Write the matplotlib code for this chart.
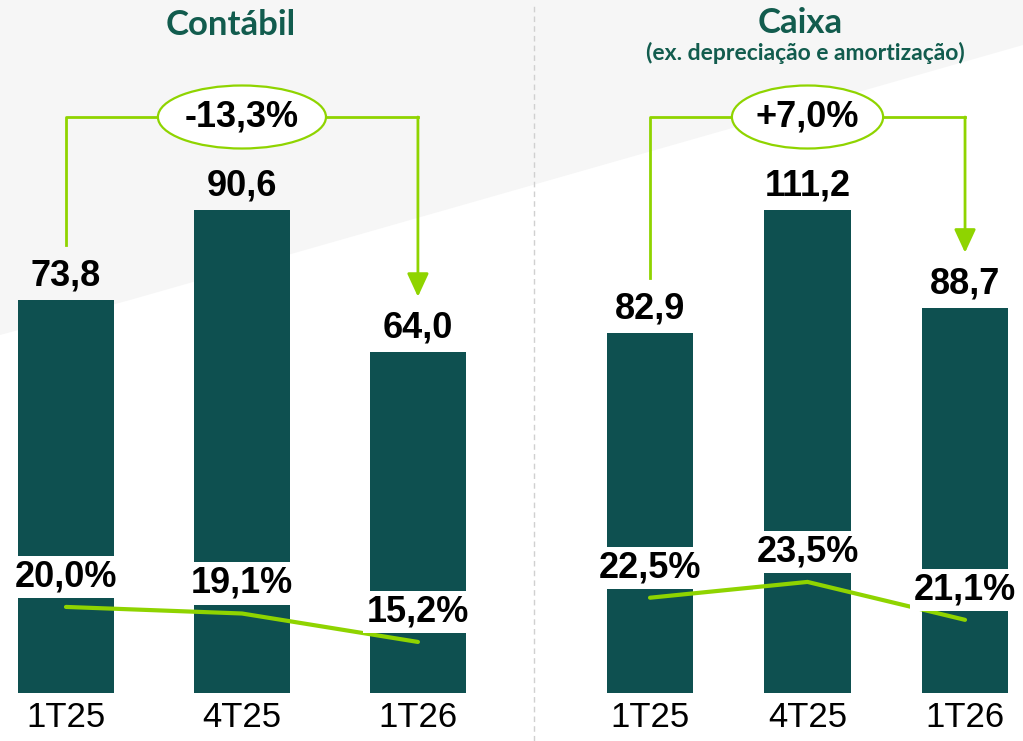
import numpy as np
import matplotlib.pyplot as plt
import matplotlib.transforms as mtransforms
from matplotlib.patches import Ellipse, Polygon
from matplotlib.lines import Line2D

categories = ['1T25', '4T25', '1T26']
contabil_values = [73.8, 90.6, 64.0]
contabil_margin = [20.0, 19.1, 15.2]
contabil_change = '-13,3%'
caixa_values = [82.9, 111.2, 88.7]
caixa_margin = [22.5, 23.5, 21.1]
caixa_change = '+7,0%'

BAR = '#0e5050'
GREEN = '#8fd400'
TITLE = '#125c4e'

W, H = 1023, 741
plt.rcParams['font.family'] = ['Liberation Sans', 'DejaVu Sans']

fig = plt.figure(figsize=(W / 100, H / 100), dpi=100)

def br(v):
  return f'{v:.1f}'.replace('.', ',')

def draw_panel(x0, x1, xlim, pct_lim, values, margins, change, ell_w):
  # axes area in pixels: top 100, bottom 693
  ax = fig.add_axes([x0 / W, 1 - 693 / H, (x1 - x0) / W, 593 / H])
  ax.patch.set_visible(False)
  x = np.arange(len(categories))
  ax.bar(x, values, width=0.55, color=BAR, zorder=2)
  ax.set_xlim(xlim)
  ymax = max(values) * 593 / 483.0
  ax.set_ylim(0, ymax)
  ax.set_yticks([])
  ax.set_xticks(x, categories, fontsize=25)
  ax.tick_params(axis='x', length=0, pad=5.8)
  for s in ax.spines.values():
    s.set_visible(False)
  per_px = ymax / 593.0

  for i, v in enumerate(values):
    ax.annotate(br(v), (i, v), xytext=(0, 24), textcoords='offset pixels',
                ha='center', va='center', fontsize=26, fontweight='bold')

  # bracket with change
  y_br = ax.transData.inverted().transform((0, H - 117))[1]
  ax.plot([0, 0, 2], [values[0] + 55 * per_px, y_br, y_br], color=GREEN, lw=2, zorder=3)
  ax.annotate('', xy=(2, values[2] + 55 * per_px), xytext=(2, y_br),
              arrowprops=dict(arrowstyle='-|>,head_width=0.3,head_length=0.65',
                              color=GREEN, lw=2, shrinkA=0, shrinkB=0, mutation_scale=22),
              zorder=3)
  tr = mtransforms.blended_transform_factory(ax.transData, fig.transFigure)
  ax.add_patch(Ellipse((1, 1 - 117 / H), ell_w, 63 / H, transform=tr,
                       fc='white', ec=GREEN, lw=1.6, zorder=4, clip_on=False))
  ax.text(1, y_br, change, ha='center', va='center', fontsize=26,
          fontweight='bold', zorder=5)

  ax2 = ax.twinx()
  ax2.plot(x, margins, color=GREEN, lw=3, solid_capstyle='round', zorder=2)
  ax2.set_ylim(pct_lim)
  ax2.axis('off')
  for i, m in enumerate(margins):
    ax2.annotate(br(m) + '%', (i, m), xytext=(0, 30), textcoords='offset pixels',
                 ha='center', va='center', fontsize=26, fontweight='bold', zorder=4,
                 bbox=dict(boxstyle='square,pad=0.1', fc='white', ec='none'))
  return ax

# faint background shape
fig.add_artist(Polygon([(0, 1), (1, 1), (1, 1 - 45 / H), (130 / W, 1 - 300 / H), (0, 1 - 335 / H)],
                       closed=True, transform=fig.transFigure, fc='#f6f6f6', ec='none', zorder=0))
fig.add_artist(Line2D([534 / W, 534 / W], [0, 1 - 5 / H], transform=fig.transFigure,
                      color='#d0d0d0', lw=1, ls=(0, (4, 3))))

draw_panel(10, 476, (-0.318, 2.33), (8.2, 89.5), contabil_values, contabil_margin,
           contabil_change, 0.955)
draw_panel(590, 1020, (-0.381, 2.349), (16.47, 54.0), caixa_values, caixa_margin,
           caixa_change, 0.96)

fig.text(231 / W, 1 - 25 / H, 'Contábil', ha='center', va='center', fontsize=25,
         fontweight='bold', family=['Lato', 'DejaVu Sans'], color=TITLE)
fig.text(800 / W, 1 - 23 / H, 'Caixa', ha='center', va='center', fontsize=25,
         fontweight='bold', family=['Lato', 'DejaVu Sans'], color=TITLE)
fig.text(805 / W, 1 - 53 / H, '(ex. depreciação e amortização)', ha='center', va='center',
         fontsize=16.5, fontweight='bold', family=['Lato', 'DejaVu Sans'], color=TITLE)

fig.savefig('out.png', dpi=100)
